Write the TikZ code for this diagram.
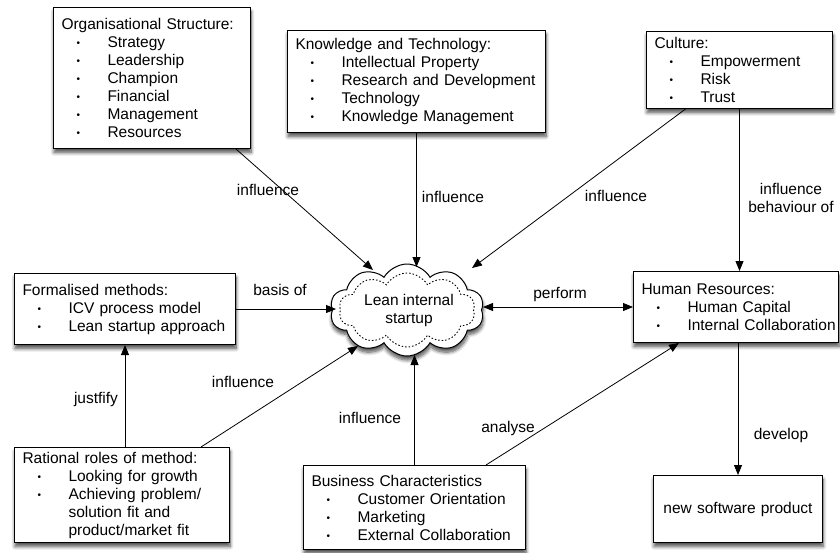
\documentclass[tikz,border=0pt]{standalone}
\usepackage{fontspec}
\setmainfont{Liberation Sans}
\usetikzlibrary{arrows.meta,shapes.symbols,shadows.blur,calc}
\newcommand{\itm}[1]{\hspace*{15pt}\makebox[31pt][l]{\raisebox{1pt}{\fontsize{10}{10}\selectfont •}}\mbox{#1}}
\newcommand{\cnt}[1]{\hspace*{46pt}\mbox{#1}}
\tikzset{
  txt/.style={font=\fontsize{15.5}{18}\selectfont},
  shad/.style={blur shadow={shadow xshift=0.5pt, shadow yshift=-4pt, shadow blur radius=3.5pt, shadow opacity=70, shadow blur steps=8}},
  box/.style={txt, draw, line width=1pt, fill=white, rectangle, anchor=north west,
    inner xsep=8pt, inner ysep=0pt, align=left, shad},
  cloudbox/.style={cloud, cloud puffs=10, cloud puff arc=120, cloud ignores aspect, inner sep=0pt},
  arr/.style={line width=0.8pt, -{Triangle[length=10pt,width=8pt]}},
  arr2/.style={line width=0.8pt, {Triangle[length=10pt,width=8pt]}-{Triangle[length=10pt,width=8pt]}},
  lab/.style={txt, inner sep=0pt, align=center}
}
\begin{document}
\begin{tikzpicture}[x=1pt,y=-1pt]
\useasboundingbox (0,0) rectangle (840,552);

% boxes
\node[box, text width=181pt, minimum height=141pt] (org) at (53,7)
  {\mbox{Organisational Structure:}\\\itm{Strategy}\\\itm{Leadership}\\\itm{Champion}\\\itm{Financial}\\\itm{Management}\\\itm{Resources}};
\node[box, text width=242pt, minimum height=102pt] (know) at (287,30)
  {\mbox{Knowledge and Technology:}\\\itm{Intellectual Property}\\\itm{Research and Development}\\\itm{Technology}\\\itm{Knowledge Management}};
\node[box, text width=170pt, minimum height=77pt] (cult) at (646,31)
  {\mbox{Culture:}\\\itm{Empowerment}\\\itm{Risk}\\\itm{Trust}};
\node[box, text width=205pt, minimum height=71pt] (form) at (14,273)
  {\mbox{Formalised methods:}\\\itm{ICV process model}\\\itm{Lean startup approach}};
\node[box, text width=189pt, minimum height=71pt] (hr) at (633,271)
  {\mbox{Human Resources:}\\\itm{Human Capital}\\\itm{Internal Collaboration}};
\node[box, text width=199pt, minimum height=95pt] (rat) at (14,447)
  {\mbox{Rational roles of method:}\\\itm{Looking for growth}\\\itm{Achieving problem/}\\\cnt{solution fit and}\\\cnt{product/market fit}};
\node[box, text width=206pt, minimum height=84pt] (bus) at (303,465)
  {\mbox{Business Characteristics}\\\itm{Customer Orientation}\\\itm{Marketing}\\\itm{External Collaboration}};
\node[box, align=center, text width=153pt, minimum height=67pt] (new) at (653,475)
  {new software product};

% cloud
\node[cloudbox, txt, draw, line width=1pt, fill=white, shad, minimum width=154pt, minimum height=92pt, align=center] (cl) at (407,310) {};
\node[cloudbox, draw, line width=0.9pt, dash pattern=on 1.5pt off 2pt, minimum width=136pt, minimum height=74pt] (cli) at (cl.center) {};
\node[lab] (cltext) at (409,310) {Lean internal\\startup};

% cloud attachment points
\coordinate (cO) at ([shift={(-34,-40)}]cl.center);
\coordinate (cK) at ([shift={(9,-43)}]cl.center);
\coordinate (cC) at ([shift={(65,-42)}]cl.center);
\coordinate (cL) at ([shift={(-71,0)}]cl.center);
\coordinate (cR) at ([shift={(76,0)}]cl.center);
\coordinate (cRa) at ([shift={(-49,36)}]cl.center);
\coordinate (cB) at ([shift={(0,45)}]cl.center);

% connectors
\draw[arr] ([xshift=-15pt]org.south east) -- (cO);
\draw[arr] (know.south) -- (know.south |- cK);
\draw[arr] ([xshift=-54pt]cult.south) -- (cC);
\draw[arr] (cult.south) -- (cult.south |- hr.north);
\draw[arr] (form.east) -- (form.east -| cL);
\draw[arr2] (hr.west -| cR) -- (hr.west);
\draw[arr] (rat.north -| form.south) -- (form.south);
\draw[arr] ([xshift=-29pt]rat.north east) -- (cRa);
\draw[arr] (bus.north) -- (bus.north |- cB);
\draw[arr] ([xshift=-40pt]bus.north east) -- ([xshift=-57pt]hr.south);
\draw[arr] (hr.south -| new.north) -- (new.north);

% labels
\node[lab] (l1) at (268,190) {influence};
\node[lab] (l2) at (453,197) {influence};
\node[lab] (l3) at (616,196) {influence};
\node[lab] (l4) at (791,198) {influence\\behaviour of};
\node[lab] (l5) at (280,290) {basis of};
\node[lab] (l6) at (560,294) {perform};
\node[lab] (l7) at (96,399) {justfify};
\node[lab] (l8) at (243,382) {influence};
\node[lab] (l9) at (370,418) {influence};
\node[lab] (l10) at (508,428) {analyse};
\node[lab] (l11) at (781,435) {develop};
\end{tikzpicture}
\end{document}
